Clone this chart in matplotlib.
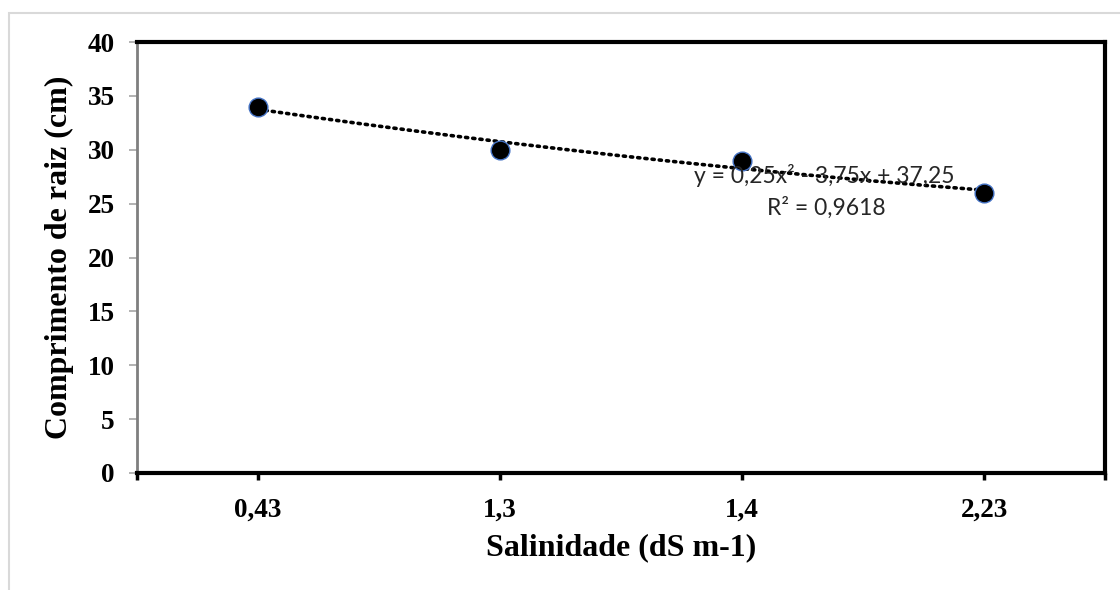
import numpy as np
import matplotlib
matplotlib.use('Agg')
import matplotlib.pyplot as plt
from matplotlib.patches import Rectangle

# data
categorias = ['0,43', '1,3', '1,4', '2,23']
comprimento = [34, 30, 29, 26]
eq_text = 'y = 0,25x² - 3,75x + 37,25'
r2_text = 'R² = 0,9618'
yticks = [0, 5, 10, 15, 20, 25, 30, 35, 40]

plt.rcParams['font.family'] = ['Liberation Serif', 'DejaVu Serif']
plt.rcParams['font.weight'] = 'bold'

x = np.arange(1, len(categorias) + 1)

fig = plt.figure(figsize=(11.2, 5.9), dpi=100)
fig.patches.append(Rectangle((9/1120, -0.05), 1.1, (590-13)/590 + 0.05,
                             transform=fig.transFigure, fill=False,
                             edgecolor='#d9d9d9', linewidth=1.5))
ax = fig.add_axes([137/1120, 117/590, 968/1120, 431/590])

# polynomial trendline (order 2), like excel
coef = np.polyfit(x, comprimento, 2)
xs = np.linspace(x[0], x[-1], 200)
ax.plot(xs, np.polyval(coef, xs), color='black', linestyle=(0, (0.6, 1.4)),
        linewidth=2.6, dash_capstyle='round', zorder=2)

ax.plot(x, comprimento, 'o', markersize=13.5, markerfacecolor='black',
        markeredgecolor='#4472c4', markeredgewidth=1.0, zorder=3)

ax.text(3.34, 27.6, eq_text, ha='center', va='center', fontsize=16.5,
        family='Lato', weight='normal', color='#262626', zorder=4)
ax.text(3.35, 24.6, r2_text, ha='center', va='center', fontsize=16.5,
        family='Lato', weight='normal', color='#262626', zorder=4)

ax.set_xlim(0.5, 4.5)
ax.set_ylim(0, 40)
ax.set_xticks(x)
ax.set_xticklabels(categorias)
ax.set_xticks([0.5, 4.5], minor=True)
ax.set_yticks(yticks)
ax.set_yticklabels([str(v) for v in yticks])

ax.tick_params(axis='x', which='both', direction='out', length=5, width=2.5,
               color='black', pad=13, labelsize=19.5)
ax.tick_params(axis='y', direction='out', length=6, width=1.2,
               color='#a6a6a6', pad=10, labelsize=19.5)
for lab in ax.get_xticklabels() + ax.get_yticklabels():
    lab.set_fontweight('bold')

for s in ['top', 'right', 'bottom']:
    ax.spines[s].set_linewidth(3)
    ax.spines[s].set_color('black')
ax.spines['left'].set_linewidth(2)
ax.spines['left'].set_color('#7f7f7f')

ax.set_xlabel('Salinidade (dS m-1)', weight='bold', fontsize=23, labelpad=7)
ax.set_ylabel('Comprimento de raiz (cm)', weight='bold', fontsize=23,
              labelpad=10)

fig.savefig('out.png', dpi=100)
